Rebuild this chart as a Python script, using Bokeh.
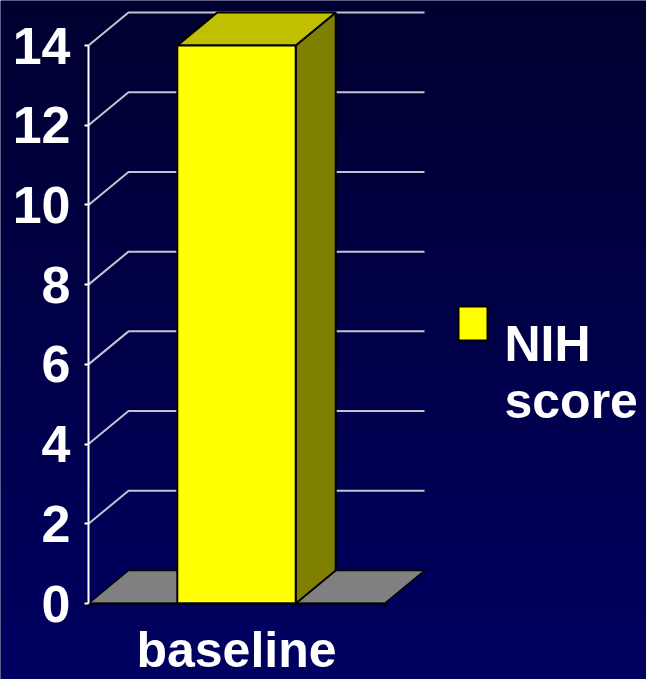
import numpy as np
from bokeh.plotting import figure
from bokeh.models import LinearAxis, FixedTicker, Label, Range1d
from bokeh.embed import file_html
from bokeh.resources import INLINE

# ---------------- data ----------------
categories = ["baseline"]
values = [14]
series_name = ["NIH", "score"]
y_ticks = [0, 2, 4, 6, 8, 10, 12, 14]

# ---------------- layout / style ----------------
W, H = 646, 679
FONT = "Liberation Sans"
# reference layout (pixels): axis origin and scale
X0_PX, SLOT_PX = 88.0, 296.0          # category slot left edge and width
Y0_PX, UNIT_PX = 603.0, 558.0 / 14.0  # zero line and px per unit
OFF = 0.0

def px_x(px):
    return (px - X0_PX) / SLOT_PX

def px_y(py):
    return (Y0_PX - py) / UNIT_PX

DX = 40.0 / SLOT_PX    # depth in x (data units)
DY = 33.0 / UNIT_PX    # depth in y (data units)
BAR_W = 0.40

x_start, x_end = px_x(OFF), px_x(OFF + W)
y_start, y_end = px_y(OFF + H), px_y(OFF)

p = figure(width=W, height=H, output_backend="svg", toolbar_location=None,
           x_range=Range1d(x_start, x_end), y_range=Range1d(y_start, y_end),
           min_border=0, outline_line_color=None,
           background_fill_color="#000048", border_fill_color="#000048")
p.xaxis.visible = False
p.yaxis.visible = False
p.xgrid.visible = False
p.ygrid.visible = False

# background gradient
n = 200
t = np.linspace(0.0, 1.0, n)  # 0 bottom -> 1 top
img = np.zeros((n, 1), dtype=np.uint32)
view = img.view(dtype=np.uint8).reshape((n, 1, 4))
view[:, 0, 2] = (98 - 50 * t).astype(np.uint8)
view[:, 0, 3] = 255
p.image_rgba(image=[img], x=x_start, y=y_start, dw=x_end - x_start, dh=y_end - y_start)

# 3D gridlines
gx, gy = [], []
for v in y_ticks:
    if v == 0:
        continue
    gx.append([0.0, DX, 1.0 + DX])
    gy.append([v, v + DY, v + DY])
p.multi_line(gx, gy, line_color="#C4C4CC", line_width=2)

# floor
p.patch([0.0, 1.0, 1.0 + DX, DX], [0.0, 0.0, DY, DY],
        fill_color="#808080", line_color="black", line_width=1.5)

# bars
for i, (cat, val) in enumerate(zip(categories, values)):
    c = i + 0.5
    l, r = c - BAR_W / 2, c + BAR_W / 2
    p.patch([r, r + DX, r + DX, r], [0, DY, val + DY, val],
            fill_color="#808000", line_color="black", line_width=2)
    p.patch([l, r, r + DX, l + DX], [val, val, val + DY, val + DY],
            fill_color="#C0C000", line_color="black", line_width=2)
    p.quad(left=l, right=r, bottom=0, top=val,
           fill_color="#FFFF00", line_color="black", line_width=2)

# y axis
yaxis = LinearAxis(fixed_location=0, bounds=(0, 14),
                   ticker=FixedTicker(ticks=y_ticks, minor_ticks=[]),
                   axis_line_color="white", axis_line_width=2,
                   major_tick_line_color="white", major_tick_line_width=2,
                   major_tick_in=0, major_tick_out=4,
                   minor_tick_line_color=None,
                   major_label_standoff=14,
                   major_label_text_color="white",
                   major_label_text_font=FONT,
                   major_label_text_font_style="bold",
                   major_label_text_font_size="52px")
p.add_layout(yaxis, "left")

# x axis
xaxis = LinearAxis(fixed_location=0, bounds=(0, len(categories)),
                   ticker=FixedTicker(ticks=[i + 0.5 for i in range(len(categories))],
                                      minor_ticks=list(range(len(categories) + 1))),
                   major_label_overrides={i + 0.5: c for i, c in enumerate(categories)},
                   axis_line_color="black", axis_line_width=2,
                   major_tick_line_color=None,
                   minor_tick_line_color="black", minor_tick_line_width=2,
                   minor_tick_in=0, minor_tick_out=5,
                   major_label_standoff=12,
                   major_label_text_color="white",
                   major_label_text_font=FONT,
                   major_label_text_font_style="bold",
                   major_label_text_font_size="50px")
p.add_layout(xaxis, "below")

# legend (manual)
p.quad(left=px_x(458), right=px_x(487), top=px_y(306), bottom=px_y(340),
       fill_color="#FFFF00", line_color="black", line_width=2)
p.add_layout(Label(x=px_x(504), y=px_y(343), text=series_name[0],
                   text_color="white", text_font=FONT, text_font_style="bold",
                   text_font_size="50px", text_baseline="alphabetic"))
p.add_layout(Label(x=px_x(504), y=px_y(400), text=series_name[1],
                   text_color="white", text_font=FONT, text_font_style="bold",
                   text_font_size="50px", text_baseline="alphabetic"))

open("out.html", "w").write(file_html(p, INLINE))
